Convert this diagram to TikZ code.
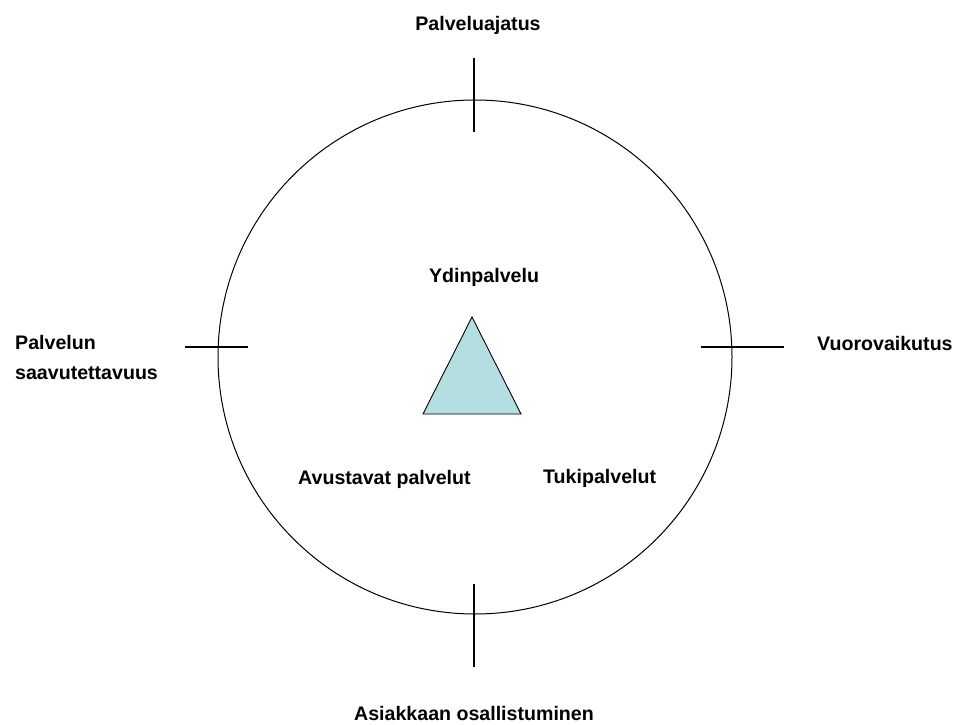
\documentclass[tikz,border=0pt]{standalone}
\usepackage{fontspec}
\setmainfont{Liberation Sans}
\definecolor{tri}{RGB}{180,222,226}
\begin{document}
\begin{tikzpicture}[x=1pt,y=-1pt,
  lbl/.style={font=\bfseries\fontsize{19.6}{30}\selectfont, inner sep=0pt, text=black},
  tick/.style={line width=1.1pt, black},
  ring/.style={line width=1pt, black}]
\useasboundingbox (0,0) rectangle (959,725);
\coordinate (c) at (475,357);
\draw[ring] (c) circle[radius=257];
% ticks
\draw[tick] (474,58) -- (474,132);
\draw[tick] (474,584) -- (474,667);
\draw[tick] (185,347) -- (248,347);
\draw[tick] (701,347) -- (784,347);
% triangle
\draw[fill=tri, line width=0.9pt, line join=miter] (472,317) -- (521,414) -- (423,414) -- cycle;
% labels
\node[lbl] (top) at (478,25) {Palveluajatus};
\node[lbl, align=left, anchor=west] (left) at (15,357) {Palvelun\\saavutettavuus};
\node[lbl, anchor=west] (right) at (817,343) {Vuorovaikutus};
\node[lbl] (bottom) at (474,713) {Asiakkaan osallistuminen};
\node[lbl] (core) at (484,277) {Ydinpalvelu};
\node[lbl, anchor=west] (aux) at (298,479) {Avustavat palvelut};
\node[lbl, anchor=west] (sup) at (543,478) {Tukipalvelut};
\end{tikzpicture}
\end{document}
